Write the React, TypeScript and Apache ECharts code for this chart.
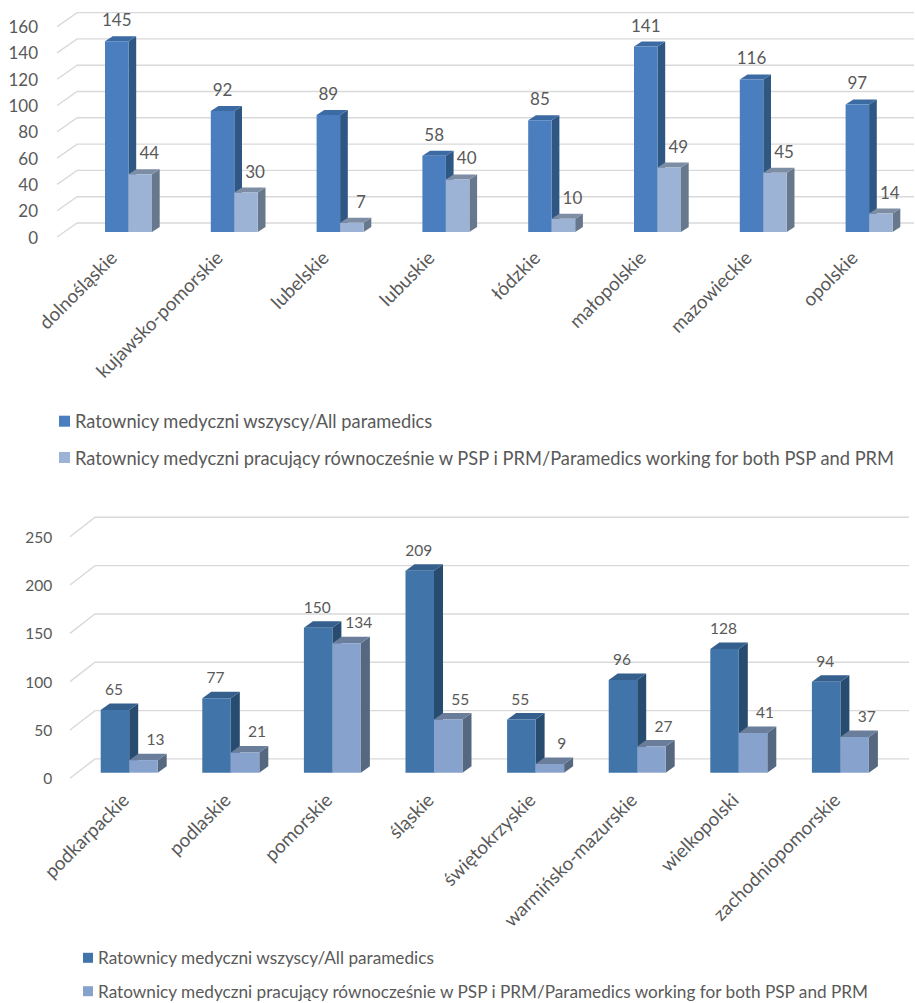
import React, { useEffect, useRef } from "react";
import * as echarts from "echarts";

// ---- data ----
const SERIES_ALL = "Ratownicy medyczni wszyscy/All paramedics";
const SERIES_BOTH =
  "Ratownicy medyczni pracujący równocześnie w PSP i PRM/Paramedics working for both PSP and PRM";

const topCategories = [
  "dolnośląskie",
  "kujawsko-pomorskie",
  "lubelskie",
  "lubuskie",
  "łódzkie",
  "małopolskie",
  "mazowieckie",
  "opolskie",
];
const topAll = [145, 92, 89, 58, 85, 141, 116, 97];
const topBoth = [44, 30, 7, 40, 10, 49, 45, 14];
const topTicks = [0, 20, 40, 60, 80, 100, 120, 140, 160];

const bottomCategories = [
  "podkarpackie",
  "podlaskie",
  "pomorskie",
  "śląskie",
  "świętokrzyskie",
  "warmińsko-mazurskie",
  "wielkopolski",
  "zachodniopomorskie",
];
const bottomAll = [65, 77, 150, 209, 55, 96, 128, 94];
const bottomBoth = [13, 21, 134, 55, 9, 27, 41, 37];
const bottomTicks = [0, 50, 100, 150, 200, 250];

// ---- styling ----
const FONT = "Lato, 'Open Sans', sans-serif";
const TEXT = "#595959";
const GRID_LINE = "#d9d9d9";

type Faces = { front: string; top: string; side: string };

const topColors: Faces[] = [
  { front: "#4a7ebf", top: "#3c6aa3", side: "#2f5784" },
  { front: "#9cb3d5", top: "#7d8da4", side: "#68788c" },
];
const bottomColors: Faces[] = [
  { front: "#4174a9", top: "#35608e", side: "#284b70" },
  { front: "#87a2cc", top: "#6a7d9a", side: "#56687f" },
];

// 3D-looking geometry of each panel (pixels)
type Geom = {
  floorLeft: number; // front edge of the floor relative to grid left
  wallDx: number; // depth of the floor
  wallDy: number;
  wallRight: number; // right end of back-wall lines
  planeDy: number; // bars' front plane relative to floor front
  rel: number; // left edge of the bar pair relative to category centre
  barW: number;
  depthDx: number;
  depthDy: number;
  labelShift: number[];
  labelGap: number;
  fontSize: number;
};

const topGeom: Geom = {
  floorLeft: -3,
  wallDx: 20,
  wallDy: -14,
  wallRight: 914,
  planeDy: -5,
  rel: -8,
  barW: 23.5,
  depthDx: 7.7,
  depthDy: -5,
  labelShift: [0, 9],
  labelGap: 21.5,
  fontSize: 17,
};

const bottomGeom: Geom = {
  floorLeft: -4.2,
  wallDx: 25,
  wallDy: -19.4,
  wallRight: 909,
  planeDy: -5.6,
  rel: -24.3,
  barW: 28.5,
  depthDx: 9,
  depthDy: -6.5,
  labelShift: [-1, 12],
  labelGap: 21,
  fontSize: 15.5,
};

function gridLineRenderer(g: Geom) {
  return (params: any, api: any) => {
    const v = api.value(1);
    const p = api.coord([0, v]);
    const xf = params.coordSys.x + g.floorLeft;
    const y = p[1];
    return {
      type: "polyline",
      silent: true,
      shape: {
        points: [
          [xf, y],
          [xf + g.wallDx, y + g.wallDy],
          [g.wallRight, y + g.wallDy],
        ],
      },
      style: { stroke: GRID_LINE, lineWidth: 1.4, fill: null },
    };
  };
}

function barRenderer(g: Geom, idx: number, c: Faces) {
  return (_params: any, api: any) => {
    const cat = api.value(0);
    const v = api.value(1);
    const base = api.coord([cat, 0]);
    const top = api.coord([cat, v]);
    const x0 = base[0] + g.rel + idx * g.barW;
    const x1 = x0 + g.barW;
    const yb = base[1] + g.planeDy;
    const yt = top[1] + g.planeDy;
    const dx = g.depthDx;
    const dy = g.depthDy;
    return {
      type: "group",
      children: [
        {
          type: "polygon",
          shape: {
            points: [
              [x1, yt],
              [x1 + dx, yt + dy],
              [x1 + dx, yb + dy],
              [x1, yb],
            ],
          },
          style: { fill: c.side },
        },
        {
          type: "polygon",
          shape: {
            points: [
              [x0, yt],
              [x0 + dx, yt + dy],
              [x1 + dx, yt + dy],
              [x1, yt],
            ],
          },
          style: { fill: c.top },
        },
        {
          type: "rect",
          shape: { x: x0, y: yt, width: g.barW, height: yb - yt },
          style: { fill: c.front },
        },
        {
          type: "text",
          x: (x0 + x1) / 2 + g.labelShift[idx],
          y: yt - g.labelGap,
          style: {
            text: String(v),
            align: "center",
            verticalAlign: "middle",
            fill: TEXT,
            fontSize: g.fontSize,
            fontFamily: FONT,
          },
        },
      ],
    };
  };
}

function panelSeries(
  gridIndex: number,
  g: Geom,
  ticks: number[],
  all: number[],
  both: number[],
  colors: Faces[]
) {
  return [
    {
      type: "custom",
      xAxisIndex: gridIndex,
      yAxisIndex: gridIndex,
      z: 1,
      silent: true,
      renderItem: gridLineRenderer(g),
      data: ticks.map((t) => [0, t]),
      encode: { x: 0, y: 1 },
      tooltip: { show: false },
    },
    {
      type: "custom",
      name: SERIES_ALL,
      xAxisIndex: gridIndex,
      yAxisIndex: gridIndex,
      z: 2,
      itemStyle: { color: colors[0].front },
      renderItem: barRenderer(g, 0, colors[0]),
      data: all.map((v, i) => [i, v]),
      encode: { x: 0, y: 1 },
    },
    {
      type: "custom",
      name: SERIES_BOTH,
      xAxisIndex: gridIndex,
      yAxisIndex: gridIndex,
      z: 3,
      itemStyle: { color: colors[1].front },
      renderItem: barRenderer(g, 1, colors[1]),
      data: both.map((v, i) => [i, v]),
      encode: { x: 0, y: 1 },
    },
  ];
}

function xAxis(gridIndex: number, cats: string[], fontSize: number, margin: number) {
  return {
    type: "category",
    gridIndex,
    data: cats,
    axisLine: { show: false },
    axisTick: { show: false },
    splitLine: { show: false },
    axisLabel: {
      interval: 0,
      rotate: 45,
      margin,
      color: TEXT,
      fontSize,
      fontFamily: FONT,
    },
  };
}

function yAxis(gridIndex: number, max: number, interval: number, fontSize: number) {
  return {
    type: "value",
    gridIndex,
    min: 0,
    max,
    interval,
    axisLine: { show: false },
    axisTick: { show: false },
    splitLine: { show: false },
    axisLabel: { margin: 22, color: TEXT, fontSize, fontFamily: FONT },
  };
}

function legend(left: number, top: number, size: number, gap: number, font: number, colors: Faces[]) {
  return {
    orient: "vertical",
    left,
    top,
    padding: 0,
    icon: "rect",
    itemWidth: size,
    itemHeight: size,
    itemGap: gap,
    selectedMode: false,
    textStyle: { fontSize: font, color: TEXT, fontFamily: FONT, lineHeight: 18 },
    data: [
      { name: SERIES_ALL, itemStyle: { color: colors[0].front } },
      { name: SERIES_BOTH, itemStyle: { color: colors[1].front } },
    ],
  };
}

export default function App() {
  const ref = useRef<HTMLDivElement>(null);

  useEffect(() => {
    if (!ref.current) return;
    const chart = echarts.init(ref.current, undefined, { renderer: "svg" });
    chart.setOption({
      animation: false,
      backgroundColor: "#ffffff",
      grid: [
        { left: 60.1, top: 26.6, width: 846.4, height: 210.4 },
        { left: 74.2, top: 536.7, width: 812.8, height: 241.6 },
      ],
      xAxis: [
        xAxis(0, topCategories, 18.8, 17),
        xAxis(1, bottomCategories, 18.8, 18),
      ],
      yAxis: [yAxis(0, 160, 20, 17), yAxis(1, 250, 50, 15.5)],
      legend: [
        legend(59, 412.2, 11, 18.3, 18.3, topColors),
        legend(83, 948.8, 10, 15.4, 17.2, bottomColors),
      ],
      series: [
        ...panelSeries(0, topGeom, topTicks, topAll, topBoth, topColors),
        ...panelSeries(1, bottomGeom, bottomTicks, bottomAll, bottomBoth, bottomColors),
      ],
    });
    return () => chart.dispose();
  }, []);

  return (
    <div
      ref={ref}
      style={{ position: "absolute", left: 0, top: 0, width: 915, height: 1003 }}
    />
  );
}
